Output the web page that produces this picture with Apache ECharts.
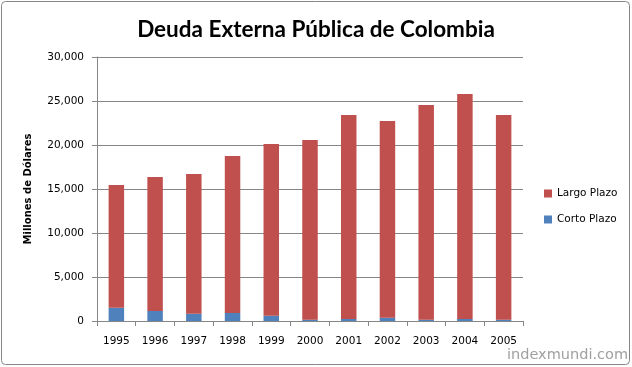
<!DOCTYPE html>
<html><head><meta charset="utf-8">
<script src="https://cdn.jsdelivr.net/npm/echarts@6/dist/echarts.min.js"></script>
<style>html,body{margin:0;padding:0;background:#fff}#c{width:632px;height:367px}</style>
</head><body><div id="c"></div>
<script>
const years = ['1995','1996','1997','1998','1999','2000','2001','2002','2003','2004','2005'];
const cortoPlazo = [1510,1140,830,910,600,150,230,375,150,230,150];
const largoPlazo = [13940,15220,15870,17840,19500,20420,23170,22355,24400,25570,23250];
const yTicks = [0,5000,10000,15000,20000,25000,30000];

const chart = echarts.init(document.getElementById('c'));
const fmt = v => v.toLocaleString('en-US');
chart.setOption({
  animation:false,
  title:{text:'Deuda Externa Pública de Colombia',left:'center',top:13,
    textStyle:{fontFamily:'Lato',fontWeight:'bold',fontSize:22.5,color:'#000'}},
  legend:{orient:'vertical',left:539,top:183,itemWidth:8,itemHeight:8,itemGap:15,icon:'rect',
    textStyle:{fontFamily:'DejaVu Sans',fontSize:10.5,color:'#000'},
    data:['Largo Plazo','Corto Plazo']},
  grid:{left:97,right:109,top:57,bottom:46,containLabel:false},
  xAxis:{type:'category',data:years,
    axisLine:{lineStyle:{color:'#868686',width:1}},
    axisTick:{show:true,length:5,alignWithLabel:false,lineStyle:{color:'#868686'}},
    axisLabel:{fontFamily:'DejaVu Sans',fontSize:10.5,color:'#000',margin:15}},
  yAxis:{type:'value',min:0,max:30000,interval:5000,
    name:'Millones de Dólares',nameLocation:'middle',nameGap:64,nameRotate:90,
    nameTextStyle:{fontFamily:'DejaVu Sans',fontWeight:'bold',fontSize:10,color:'#000'},
    axisLine:{show:true,lineStyle:{color:'#868686'}},
    axisTick:{show:true,length:5,inside:false,lineStyle:{color:'#868686'}},
    splitLine:{lineStyle:{color:'#868686',width:1}},
    axisLabel:{fontFamily:'DejaVu Sans',fontSize:10.5,color:'#000',margin:13,
      formatter:v=>fmt(v)}},
  series:[
    {name:'Corto Plazo',type:'bar',stack:'t',data:cortoPlazo,barWidth:'40%',itemStyle:{color:'#4f81bd'}},
    {name:'Largo Plazo',type:'bar',stack:'t',data:largoPlazo,barWidth:'40%',itemStyle:{color:'#c0504d'}}
  ],
  graphic:[
    {type:'rect',shape:{x:1.5,y:1.5,width:628,height:363,r:4},style:{fill:null,stroke:'#868686',lineWidth:1},silent:true},
    {type:'text',right:4,bottom:4,style:{text:'indexmundi.com',fontFamily:'DejaVu Sans',fontSize:14.5,fill:'#a0a0a0'}}
  ]
});
</script></body></html>
